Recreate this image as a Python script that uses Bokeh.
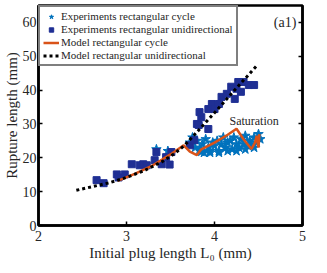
from bokeh.plotting import figure
from bokeh.models import Range1d, LinearAxis, Legend, LegendItem, FixedTicker, CustomJSTickFormatter, Label
from bokeh.embed import file_html
from bokeh.resources import INLINE

# Experiments rectangular cycle (stars)
cyc_x = [3.72, 3.75, 3.78, 3.80, 3.83, 3.86, 3.88, 3.90, 3.93, 3.95, 3.98, 4.00, 4.03, 4.05,
         4.08, 4.10, 4.12, 4.15, 4.18, 4.20, 4.22, 4.25, 4.28, 4.30, 4.33, 4.35, 4.38, 4.40,
         4.42, 4.45, 4.48, 4.50, 4.52, 3.85, 3.95, 4.05, 4.15, 4.25, 4.35, 4.45, 3.34, 3.47]
cyc_y = [24.5, 26.0, 23.0, 25.0, 22.5, 24.0, 21.5, 25.5, 23.0, 22.0, 24.5, 23.5, 25.0, 22.0,
         24.0, 26.0, 23.0, 24.5, 25.0, 22.5, 26.0, 24.0, 23.0, 25.5, 24.0, 26.5, 23.5, 25.0,
         24.0, 26.0, 24.5, 27.0, 25.5, 21.8, 21.5, 21.5, 22.0, 22.0, 22.5, 23.0, 22.5, 22.0]

# Experiments rectangular unidirectional (squares)
uni_x = [2.66, 2.74, 2.89, 2.91, 2.98, 3.06, 3.15, 3.19, 3.23, 3.32, 3.34, 3.40, 3.45, 3.49,
         3.51, 3.72, 3.77, 3.80, 3.82, 3.85, 3.83, 3.93, 3.97, 4.00, 4.05, 4.08, 4.14, 4.19,
         4.23, 4.25, 4.27, 4.30, 4.33, 4.39, 4.45, 3.93]
uni_y = [13.4, 12.5, 15.1, 14.2, 15.1, 18.1, 17.8, 18.1, 17.8, 19.3, 21.7, 18.1, 20.2, 18.0,
         21.7, 23.7, 25.2, 30.0, 29.7, 32.0, 33.5, 34.4, 35.9, 34.4, 35.9, 38.0, 38.9, 41.0,
         37.4, 40.4, 42.4, 39.5, 42.4, 41.5, 41.5, 28.5]

# Model rectangular cycle
mc_x = [2.90, 3.10, 3.30, 3.50, 3.65, 3.72, 3.80, 3.85, 4.00, 4.15, 4.25, 4.33, 4.42, 4.46,
        4.48, 4.50, 4.51]
mc_y = [13.2, 15.3, 17.8, 21.0, 23.7, 21.8, 20.8, 22.5, 24.5, 26.8, 28.6, 25.5, 22.6, 24.5,
        26.5, 23.0, 27.0]

# Model rectangular unidirectional
mu_x = [2.43, 2.60, 2.80, 3.00, 3.20, 3.40, 3.55, 3.66, 3.80, 4.00, 4.20, 4.40, 4.48]
mu_y = [10.4, 11.4, 12.6, 14.2, 16.2, 18.8, 21.3, 23.7, 27.6, 33.3, 39.2, 44.9, 47.2]

x_ticks = [2, 3, 4, 5]
y_ticks = [0, 10, 20, 30, 40, 50, 60]

FONT = "'Liberation Serif', serif"
FONT2 = "serif"

p = figure(frame_width=264, frame_height=220, output_backend="svg", toolbar_location=None,
           x_range=Range1d(2, 5), y_range=Range1d(0, 65),
           min_border_left=0, min_border_top=5, min_border_right=4, min_border_bottom=0)
p.xgrid.visible = False
p.ygrid.visible = False
p.outline_line_color = "black"
p.outline_line_width = 2.5
p.outline_line_alpha = 1

for ax in (p.xaxis[0], p.yaxis[0]):
    ax.axis_line_width = 2.5
    ax.major_tick_in = 4
    ax.major_tick_out = 0
    ax.minor_tick_line_color = None
    ax.major_label_text_font = FONT
    ax.major_label_text_font_size = "14px"
    ax.major_label_text_color = "#262626"
    ax.axis_label_text_font = FONT
    ax.axis_label_text_font_size = "15px"
    ax.axis_label_text_font_style = "normal"
    ax.axis_label_text_color = "#262626"
    ax.major_tick_line_width = 1.5

p.xaxis.ticker = FixedTicker(ticks=x_ticks)
p.yaxis.ticker = FixedTicker(ticks=y_ticks)
p.xaxis.axis_label = "Initial plug length L\u2080 (mm)"
p.yaxis.axis_label = "Rupture length (mm)"
p.xaxis.major_label_standoff = 5
p.yaxis.major_label_standoff = 2
p.xaxis.axis_label_standoff = 1
p.yaxis.axis_label_standoff = 0

ra = LinearAxis(ticker=FixedTicker(ticks=y_ticks),
                formatter=CustomJSTickFormatter(code="return '';"))
ra.major_tick_in = 4
ra.major_tick_out = 0
ra.major_tick_line_width = 1.5
ra.axis_line_width = 2.5
ra.minor_tick_line_color = None
p.add_layout(ra, "right")

r_cyc = p.scatter(cyc_x, cyc_y, marker="star", size=10, fill_color="#0072BD",
                  line_color="#0072BD", line_width=1)
r_uni = p.scatter(uni_x, uni_y, marker="square", size=7, fill_color="#1f2f94",
                  line_color="#1f2f94")
r_mc = p.line(mc_x, mc_y, line_color="#D95319", line_width=2.5)
r_mu = p.line(mu_x, mu_y, line_color="black", line_width=3, line_dash="3 3")

legend = Legend(items=[
    LegendItem(label="Experiments rectangular cycle", renderers=[r_cyc]),
    LegendItem(label="Experiments rectangular unidirectional", renderers=[r_uni]),
    LegendItem(label="Model rectangular cycle", renderers=[r_mc]),
    LegendItem(label="Model rectangular unidirectional", renderers=[r_mu]),
], location="top_left")
legend.label_text_font = FONT2
legend.label_text_font_size = "11px"
legend.label_text_color = "#262626"
legend.label_height = 11
legend.glyph_height = 11
legend.glyph_width = 16
legend.label_standoff = 2
legend.spacing = 1
legend.padding = 3
legend.margin = 0
legend.border_line_color = "black"
legend.border_line_width = 2.5
legend.background_fill_alpha = 1
p.add_layout(legend)

p.add_layout(Label(x=4.93, y=60, text="(a1)", text_align="right", text_baseline="middle",
                   text_font=FONT2, text_font_size="14px", text_color="#262626"))
p.add_layout(Label(x=4.17, y=31, text="Saturation", text_align="left", text_baseline="middle",
                   text_font=FONT2, text_font_size="12px", text_color="#262626"))

open("out.html", "w").write(file_html(p, INLINE))
